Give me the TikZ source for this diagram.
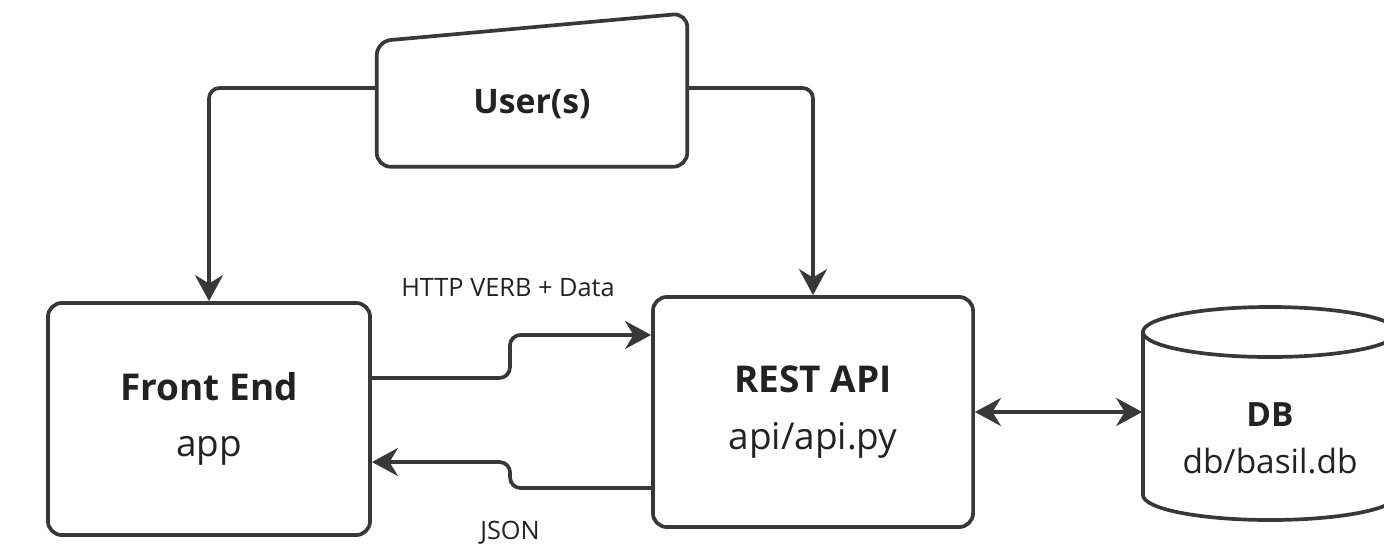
\documentclass[tikz,border=0pt]{standalone}
\usepackage{fontspec}
\setmainfont{Open Sans}
\usetikzlibrary{arrows.meta}
\definecolor{linecol}{HTML}{383838}
\definecolor{txtcol}{HTML}{222222}
\newcommand{\tipsz}{Stealth[length=2.6mm,width=2.8mm]}
\tikzset{
  block/.style={draw=linecol, line width=1.05pt, rounded corners=4pt, align=center,
    text=txtcol, inner sep=0pt, font=\fontsize{10.5}{16}\selectfont},
  flow/.style={draw=linecol, line width=1.05pt, -{\tipsz}, rounded corners=3pt},
  lbl/.style={text=txtcol, font=\fontsize{7.2}{9}\selectfont},
  outline/.style={draw=linecol, line width=1.05pt}
}

\begin{document}
\begin{tikzpicture}[x=0.01cm, y=-0.01cm]
  \useasboundingbox (0,0) rectangle (1384,551);

    \node[block] (fe) at (209,419) [minimum width=3.22cm, minimum height=2.32cm]
      {\textbf{Front End}\\app};
    \node[block] (rest) at (813,412) [minimum width=3.20cm, minimum height=2.30cm]
      {\textbf{REST API}\\api/api.py};

    % user box, slanted top
    \node[text=txtcol, font=\fontsize{9.6}{12}\selectfont\bfseries] (user) at (532,104)
      [minimum width=3.09cm, minimum height=1.24cm] {User(s)};
    \draw[outline, rounded corners=4pt] (user.south west) -- (user.north west)
      -- ([yshift=.28cm]user.north east) -- (user.south east) -- cycle;

    % database
    \node (db) at (1270,413) [minimum width=2.54cm, minimum height=2.13cm] {};
    \draw[outline] (1143,332) -- (1143,495)
      arc[start angle=180, end angle=360, x radius=1.27cm, y radius=.25cm] -- (1397,332);
    \draw[outline] (1270,332) ellipse [x radius=1.27cm, y radius=.25cm];
    \node[text=txtcol, align=center, font=\fontsize{9.5}{13.3}\selectfont] (dbtext) at (1270,438)
      {\textbf{DB}\\db/basil.db};

    \draw[flow] ([yshift=.16cm]user.west) -| (fe.north);
    \draw[flow] ([yshift=.16cm]user.east) -| (rest.north);

    \draw[flow] ([yshift=.41cm]fe.east) -- ++(138,0) |- ([yshift=.77cm]rest.west);
    \draw[flow] ([yshift=-.76cm]rest.west) -- ++(-141,0) |- ([yshift=-.43cm]fe.east);
    \draw[flow, {\tipsz}-{\tipsz}] (rest.east) -- (rest.east -| db.west);

    \node[lbl] (http) at (508,288) {HTTP VERB + Data};
    \node[lbl] (json) at (510,533) {JSON};

\end{tikzpicture}
\end{document}
